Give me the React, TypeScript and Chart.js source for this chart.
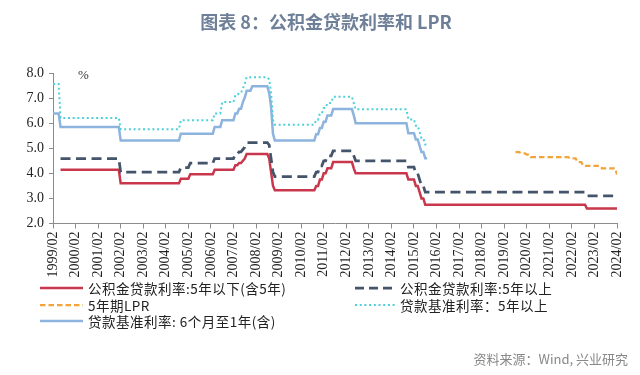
import React, { useEffect, useRef } from 'react';
import { Chart, registerables } from 'chart.js';

Chart.register(...registerables);

// x axis tick labels (monthly axis, one label per year)
const xTickLabels = [
  '1999/02', '2000/02', '2001/02', '2002/02', '2003/02', '2004/02', '2005/02',
  '2006/02', '2007/02', '2008/02', '2009/02', '2010/02', '2011/02', '2012/02',
  '2013/02', '2014/02', '2015/02', '2016/02', '2017/02', '2018/02', '2019/02',
  '2020/02', '2021/02', '2022/02', '2023/02', '2024/02',
];
const yTickValues = [2, 3, 4, 5, 6, 7, 8];

// 公积金贷款利率 (change months and rates)
const pfDates = [
  '1999/06', '2002/02', '2004/10', '2005/03', '2006/04', '2007/03', '2007/05',
  '2007/07', '2007/08', '2007/09', '2008/09', '2008/10', '2008/11', '2008/12',
  '2010/10', '2010/12', '2011/02', '2011/04', '2011/07', '2012/06', '2012/07',
  '2014/11', '2015/03', '2015/05', '2015/06', '2015/08', '2022/10',
];
const pfShortRates = [
  4.14, 3.6, 3.78, 3.96, 4.14, 4.32, 4.41, 4.5, 4.59, 4.77, 4.59, 4.05, 3.51, 3.33,
  3.5, 3.75, 4.0, 4.2, 4.45, 4.2, 4.0, 3.75, 3.5, 3.25, 3.0, 2.75, 2.6,
];
const pfLongRates = [
  4.59, 4.05, 4.23, 4.41, 4.59, 4.77, 4.86, 4.95, 5.04, 5.22, 5.13, 4.59, 4.05, 3.87,
  4.05, 4.3, 4.5, 4.7, 4.9, 4.7, 4.5, 4.25, 4.0, 3.75, 3.5, 3.25, 3.1,
];
const pfEnd = '2024/02';

// 5年期LPR
const lprDates = [
  '2019/08', '2019/11', '2020/02', '2020/04', '2022/01', '2022/05', '2022/08',
  '2023/06', '2024/02',
];
const lprRates = [4.85, 4.8, 4.75, 4.65, 4.6, 4.45, 4.3, 4.2, 3.95];
const lprEnd = '2024/02';

// 贷款基准利率：5年以上
const benchLongDates = [
  '1999/02', '1999/06', '2002/02', '2004/10', '2006/04', '2006/08', '2007/03',
  '2007/05', '2007/07', '2007/08', '2007/09', '2008/09', '2008/10', '2008/11',
  '2008/12', '2010/10', '2010/12', '2011/02', '2011/04', '2011/07', '2012/06',
  '2012/07', '2014/11', '2015/03', '2015/05', '2015/06', '2015/08',
];
const benchLongRates = [
  7.56, 6.21, 5.76, 6.12, 6.39, 6.84, 7.11, 7.2, 7.38, 7.56, 7.83, 7.74, 7.2, 6.12,
  5.94, 6.14, 6.4, 6.6, 6.8, 7.05, 6.8, 6.55, 6.15, 5.9, 5.65, 5.4, 5.15,
];

// 贷款基准利率：6个月至1年(含)
const benchShortDates = [
  '1999/02', '1999/06', '2002/02', '2004/10', '2006/04', '2006/08', '2007/03',
  '2007/05', '2007/07', '2007/08', '2007/09', '2007/12', '2008/09', '2008/10',
  '2008/11', '2008/12', '2010/10', '2010/12', '2011/02', '2011/04', '2011/07',
  '2012/06', '2012/07', '2014/11', '2015/03', '2015/05', '2015/06', '2015/08',
];
const benchShortRates = [
  6.39, 5.85, 5.31, 5.58, 5.85, 6.12, 6.39, 6.57, 6.84, 7.02, 7.29, 7.47, 7.2, 6.66,
  5.58, 5.31, 5.56, 5.81, 6.06, 6.31, 6.56, 6.31, 6.0, 5.6, 5.35, 5.1, 4.85, 4.6,
];
const benchEnd = '2015/09';

const labels = {
  pfShort: '公积金贷款利率:5年以下(含5年)',
  pfLong: '公积金贷款利率:5年以上',
  lpr: '5年期LPR',
  benchLong: '贷款基准利率：5年以上',
  benchShort: '贷款基准利率: 6个月至1年(含)',
};

const colors = {
  pfShort: '#C8374B',
  pfLong: '#44546A',
  lpr: '#F2A33A',
  benchLong: '#4DD0D8',
  benchShort: '#8DB4DE',
};

const monthIndex = (d: string) => {
  const [y, m] = d.split('/').map(Number);
  return (y - 1999) * 12 + (m - 2);
};

// monthly series: the rate holds until the month of a change, then moves within one month
const buildPoints = (dates: string[], rates: number[], end: string) => {
  const pts: { x: number; y: number }[] = [];
  dates.forEach((d, i) => {
    const x = monthIndex(d);
    if (i > 0) {
      const prevX = pts[pts.length - 1].x;
      if (x - 1 > prevX) pts.push({ x: x - 1, y: rates[i - 1] });
    }
    pts.push({ x, y: rates[i] });
  });
  const endX = monthIndex(end);
  if (pts[pts.length - 1].x < endX) pts.push({ x: endX, y: rates[rates.length - 1] });
  return pts;
};

const CJK = '"Noto Sans CJK SC", "Noto Sans", sans-serif';
const SERIF = '"Liberation Serif", "DejaVu Serif", serif';

function LegendItem({ x, y, lineW, color, dash, width, text }: any) {
  return (
    <div style={{ position: 'absolute', left: x, top: y - 10, height: 20, display: 'flex', alignItems: 'center' }}>
      <svg width={lineW} height={6} style={{ display: 'block' }}>
        <line x1={0} y1={3} x2={lineW} y2={3} stroke={color} strokeWidth={width} strokeDasharray={dash} />
      </svg>
      <span style={{ marginLeft: 5, font: `13.5px ${CJK}`, letterSpacing: '0.5px', color: '#222', whiteSpace: 'nowrap' }}>{text}</span>
    </div>
  );
}

export default function App() {
  const ref = useRef<HTMLCanvasElement>(null);

  useEffect(() => {
    const canvas = ref.current;
    if (!canvas) return;
    const tickFont = { family: SERIF, size: 14 };
    const common = { pointRadius: 0, fill: false, tension: 0, borderJoinStyle: 'miter' };
    const chart = new Chart(canvas, {
      type: 'line',
      data: {
        datasets: [
          {
            ...common,
            label: labels.benchLong,
            data: buildPoints(benchLongDates, benchLongRates, benchEnd),
            borderColor: colors.benchLong,
            borderWidth: 2,
            borderDash: [2, 2.7],
          },
          {
            ...common,
            label: labels.benchShort,
            data: buildPoints(benchShortDates, benchShortRates, benchEnd),
            borderColor: colors.benchShort,
            borderWidth: 2.5,
          },
          {
            ...common,
            label: labels.pfLong,
            data: buildPoints(pfDates, pfLongRates, pfEnd),
            borderColor: colors.pfLong,
            borderWidth: 2.75,
            borderDash: [10, 5.5],
          },
          {
            ...common,
            label: labels.pfShort,
            data: buildPoints(pfDates, pfShortRates, pfEnd),
            borderColor: colors.pfShort,
            borderWidth: 2.5,
          },
          {
            ...common,
            label: labels.lpr,
            data: buildPoints(lprDates, lprRates, lprEnd),
            borderColor: colors.lpr,
            borderWidth: 2.25,
            borderDash: [5.5, 3],
          },
        ],
      },
      options: {
        responsive: false,
        animation: false,
        events: [],
        layout: { padding: { left: 0, right: 23, top: 73, bottom: 91.5 } },
        plugins: { legend: { display: false }, tooltip: { enabled: false }, title: { display: false } },
        scales: {
          x: {
            type: 'linear',
            min: 0,
            max: monthIndex(xTickLabels[xTickLabels.length - 1]),
            afterFit: (s: any) => { s.height = 60; },
            afterBuildTicks: (s: any) => { s.ticks = xTickLabels.map((l) => ({ value: monthIndex(l) })); },
            ticks: {
              autoSkip: false,
              maxRotation: 90,
              minRotation: 90,
              padding: 3,
              color: '#222',
              font: tickFont,
              callback: (v: any) => xTickLabels.find((l) => monthIndex(l) === v) || '',
            },
            grid: { drawOnChartArea: false, drawTicks: true, tickLength: 5, color: '#8c8c8c', lineWidth: 1 },
            border: { display: true, color: '#8c8c8c', width: 1 },
          },
          y: {
            min: yTickValues[0],
            max: yTickValues[yTickValues.length - 1],
            afterFit: (s: any) => { s.width = 53; },
            afterBuildTicks: (s: any) => { s.ticks = yTickValues.map((v) => ({ value: v })); },
            ticks: {
              padding: 5,
              color: '#222',
              font: tickFont,
              callback: (v: any) => Number(v).toFixed(1),
            },
            grid: { drawOnChartArea: false, drawTicks: true, tickLength: 4, color: '#8c8c8c', lineWidth: 1 },
            border: { display: true, color: '#8c8c8c', width: 1 },
          },
        },
      },
    } as any);
    return () => chart.destroy();
  }, []);

  return (
    <div style={{ position: 'fixed', left: 0, top: 0, width: 640, height: 375, background: '#fff', overflow: 'hidden' }}>
      <canvas ref={ref} width={640} height={375} style={{ position: 'absolute', left: 0, top: 0, width: 640, height: 375 }} />
      <div style={{ position: 'absolute', left: 6, top: 8, width: 640, textAlign: 'center', font: `bold 18px ${CJK}`, color: '#6E7F98', lineHeight: '26px' }}>
        图表 8：公积金贷款利率和 LPR
      </div>
      <div style={{ position: 'absolute', left: 78, top: 67, font: `13px ${SERIF}`, color: '#333' }}>%</div>
      <LegendItem x={40} y={288} lineW={43} color={colors.pfShort} width={2.5} text={labels.pfShort} />
      <LegendItem x={40} y={304.5} lineW={43} color={colors.lpr} width={2.25} dash="5.5 3" text={labels.lpr} />
      <LegendItem x={40} y={321} lineW={43} color={colors.benchShort} width={2.5} text={labels.benchShort} />
      <LegendItem x={355} y={288} lineW={40} color={colors.pfLong} width={2.75} dash="9 5" text={labels.pfLong} />
      <LegendItem x={355} y={304.5} lineW={40} color={colors.benchLong} width={2} dash="2 2.7" text={labels.benchLong} />
      <div style={{ position: 'absolute', right: 12, top: 349, font: `13px ${CJK}`, color: '#888', whiteSpace: 'nowrap' }}>
        资料来源：Wind, 兴业研究
      </div>
    </div>
  );
}
